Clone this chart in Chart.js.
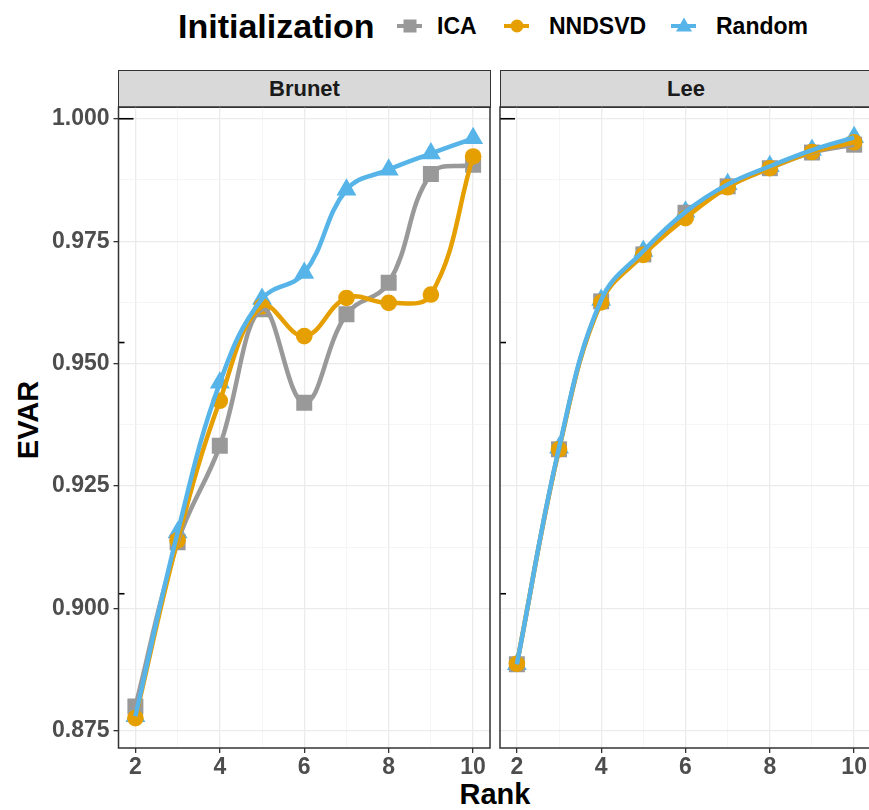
<!DOCTYPE html>
<html><head><meta charset="utf-8">
<script src="https://cdn.jsdelivr.net/npm/chart.js@4.4.1/dist/chart.umd.min.js"></script>
<style>
html,body{margin:0;padding:0;background:#fff;}
body{width:869px;height:810px;position:relative;overflow:hidden;font-family:'Liberation Sans',Arial,sans-serif;}
.strip{position:absolute;top:70px;height:38px;background:#D9D9D9;border:1.5px solid #333;box-sizing:border-box;font-weight:bold;font-size:22px;color:#1A1A1A;display:flex;align-items:center;justify-content:center;}
.lg{position:absolute;top:26px;transform:translateY(-50%);font-weight:bold;color:#000;white-space:nowrap;}
.glyph{position:absolute;top:26px;width:25px;height:20px;transform:translateY(-50%);}
.glyph .ln{position:absolute;left:0;right:0;top:8px;height:4px;}
.glyph .sh{position:absolute;left:50%;top:50%;transform:translate(-50%,-50%);}
.cv{position:absolute;top:106px;}
</style>
</head><body>
<div class="lg" id="legTitle" style="left:178px;font-size:34px;">Initialization</div>
<div id="legend"></div>
<div class="strip" style="left:118px;width:373px;">Brunet</div>
<div class="strip" style="left:499.5px;width:373px;">Lee</div>
<div class="lg" style="left:28px;top:420px;font-size:29px;transform:translate(-50%,-50%) rotate(-90deg);">EVAR</div>
<div class="lg" style="left:495px;top:794px;font-size:29px;transform:translate(-50%,-50%);">Rank</div>
<canvas id="c1" class="cv" style="left:0px;" width="492" height="704"></canvas>
<canvas id="c2" class="cv" style="left:498px;" width="375" height="704"></canvas>
<script>
// ---------- data ----------
const ranks = [2, 3, 4, 5, 6, 7, 8, 9, 10];
const seriesNames = ['ICA', 'NNDSVD', 'Random'];
const seriesColors = ['#999999', '#E69F00', '#56B4E9'];
const seriesShapes = ['rect', 'circle', 'triangle'];

const brunetICA    = [0.8800, 0.9135, 0.9332, 0.9611, 0.9420, 0.9601, 0.9665, 0.9887, 0.9906];
const brunetNNDSVD = [0.8776, 0.9139, 0.9424, 0.9617, 0.9556, 0.9634, 0.9624, 0.9641, 0.9923];
const brunetRandom = [0.8780, 0.9155, 0.9461, 0.9632, 0.9685, 0.9855, 0.9896, 0.9929, 0.9960];

const leeICA    = [0.8886, 0.9325, 0.9627, 0.9723, 0.9808, 0.9862, 0.9899, 0.9931, 0.9947];
const leeNNDSVD = [0.8887, 0.9325, 0.9625, 0.9722, 0.9797, 0.9860, 0.9899, 0.9932, 0.9952];
const leeRandom = [0.8886, 0.9328, 0.9630, 0.9730, 0.9810, 0.9866, 0.9903, 0.9936, 0.9962];

const xTickValues = [2, 3, 4, 5, 6, 7, 8, 9, 10];
const xTickLabels = ['2', '', '4', '', '6', '', '8', '', '10'];
const yTickValues = [0.875, 0.8875, 0.900, 0.9125, 0.925, 0.9375, 0.950, 0.9625, 0.975, 0.9875, 1.000];
const yTickLabels = ['0.875', '', '0.900', '', '0.925', '', '0.950', '', '0.975', '', '1.000'];
const innerTickValues = [1.000, 0.9543, 0.9030];

// ---------- style ----------
const FONT = "'Liberation Sans', Arial, sans-serif";
const pointRadii = {rect: 11.3, circle: 8.3, triangle: 11.5};

// legend
const legendLefts = [[397, 437], [504, 549], [671, 716]];
const legend = document.getElementById('legend');
seriesNames.forEach((name, i) => {
  const g = document.createElement('div');
  g.className = 'glyph';
  g.style.left = legendLefts[i][0] + 'px';
  const ln = document.createElement('div');
  ln.className = 'ln'; ln.style.background = seriesColors[i];
  const sh = document.createElement('div');
  sh.className = 'sh';
  if (seriesShapes[i] === 'rect') {
    sh.style.width = '13px'; sh.style.height = '13px'; sh.style.background = seriesColors[i];
  } else if (seriesShapes[i] === 'circle') {
    sh.style.width = '13px'; sh.style.height = '13px'; sh.style.borderRadius = '50%'; sh.style.background = seriesColors[i];
  } else {
    sh.style.width = '0'; sh.style.height = '0';
    sh.style.borderLeft = '8px solid transparent';
    sh.style.borderRight = '8px solid transparent';
    sh.style.borderBottom = '14px solid ' + seriesColors[i];
    sh.style.transform = 'translate(-50%,-60%)';
  }
  g.appendChild(ln); g.appendChild(sh);
  legend.appendChild(g);
  const t = document.createElement('div');
  t.className = 'lg'; t.style.left = legendLefts[i][1] + 'px'; t.style.fontSize = '23px';
  t.textContent = name;
  legend.appendChild(t);
});

const boxPlugin = {
  id: 'box',
  afterDatasetsDraw(chart) {
    const a = chart.chartArea, ctx = chart.ctx, y = chart.scales.y;
    ctx.save();
    ctx.strokeStyle = '#000'; ctx.lineWidth = 1.6;
    innerTickValues.forEach((v, i) => {
      const py = y.getPixelForValue(v);
      ctx.beginPath(); ctx.moveTo(a.left, py); ctx.lineTo(a.left + (i === 0 ? 15 : 6), py); ctx.stroke();
    });
    ctx.strokeStyle = '#333'; ctx.lineWidth = 1.5;
    ctx.strokeRect(a.left, a.top, a.right - a.left, a.bottom - a.top);
    ctx.restore();
  }
};

function zeroPad(s) { s.paddingLeft = 0; s.paddingRight = 0; s.paddingTop = 0; s.paddingBottom = 0; }

function makePanel(id, values, showY, padding) {
  const datasets = [];
  values.forEach((vals, i) => {
    datasets.push({
      type: 'line', data: ranks.map((r, k) => ({x: r, y: vals[k]})),
      borderColor: seriesColors[i], borderWidth: 4.5, tension: 0.4, pointRadius: 0,
      fill: false, order: 2 - i
    });
  });
  const pointOrder = {circle: 3, rect: 4, triangle: 5};
  values.forEach((vals, i) => {
    datasets.push({
      type: 'line', data: ranks.map((r, k) => ({x: r, y: vals[k]})),
      showLine: false, pointStyle: seriesShapes[i], pointRadius: pointRadii[seriesShapes[i]],
      pointBackgroundColor: seriesColors[i], pointBorderColor: seriesColors[i], pointBorderWidth: 0,
      order: pointOrder[seriesShapes[i]]
    });
  });
  const isMajorX = (ctx) => ctx.tick && xTickLabels[xTickValues.indexOf(ctx.tick.value)] !== '';
  const isMajorY = (ctx) => ctx.tick && yTickLabels[yTickValues.indexOf(ctx.tick.value)] !== '';
  return new Chart(document.getElementById(id), {
    type: 'line',
    data: {datasets},
    plugins: [boxPlugin],
    options: {
      responsive: false, animation: false, devicePixelRatio: 1,
      layout: {padding, autoPadding: false},
      plugins: {legend: {display: false}, tooltip: {enabled: false}},
      scales: {
        x: {
          type: 'linear', min: 1.6, max: 10.4,
          afterBuildTicks: (s) => { s.ticks = xTickValues.map(v => ({value: v})); },
          afterFit: (s) => { s.height = 62; zeroPad(s); },
          ticks: {
            autoSkip: false, maxRotation: 0, padding: 1, color: '#4D4D4D',
            font: {family: FONT, size: 23, weight: 'bold'},
            callback: (v, i) => xTickLabels[i]
          },
          grid: {
            color: (c) => isMajorX(c) ? '#EBEBEB' : '#F2F2F2',
            lineWidth: (c) => isMajorX(c) ? 1.3 : 0.8,
            tickColor: (c) => isMajorX(c) ? '#333333' : 'rgba(0,0,0,0)',
            tickLength: 5, tickWidth: 1.3
          },
          border: {display: false}
        },
        y: {
          type: 'linear', min: 0.8715, max: 1.0024,
          afterBuildTicks: (s) => { s.ticks = yTickValues.map(v => ({value: v})); },
          afterFit: (s) => { s.width = showY ? 118.5 : 0; zeroPad(s); },
          ticks: {
            display: showY, padding: 4, color: '#4D4D4D',
            font: {family: FONT, size: 23, weight: 'bold'},
            callback: (v, i) => yTickLabels[i]
          },
          grid: {
            color: (c) => isMajorY(c) ? '#EBEBEB' : '#F2F2F2',
            lineWidth: (c) => isMajorY(c) ? 1.3 : 0.8,
            tickColor: (c) => isMajorY(c) ? '#333333' : 'rgba(0,0,0,0)',
            tickLength: 5, tickWidth: 1.3, drawTicks: showY
          },
          border: {display: false}
        }
      }
    }
  });
}

makePanel('c1', [brunetICA, brunetNNDSVD, brunetRandom], true, {left: 0, top: 1, right: 2, bottom: 0});
makePanel('c2', [leeICA, leeNNDSVD, leeRandom], false, {left: 2, top: 1, right: 2, bottom: 0});
</script>
</body></html>
